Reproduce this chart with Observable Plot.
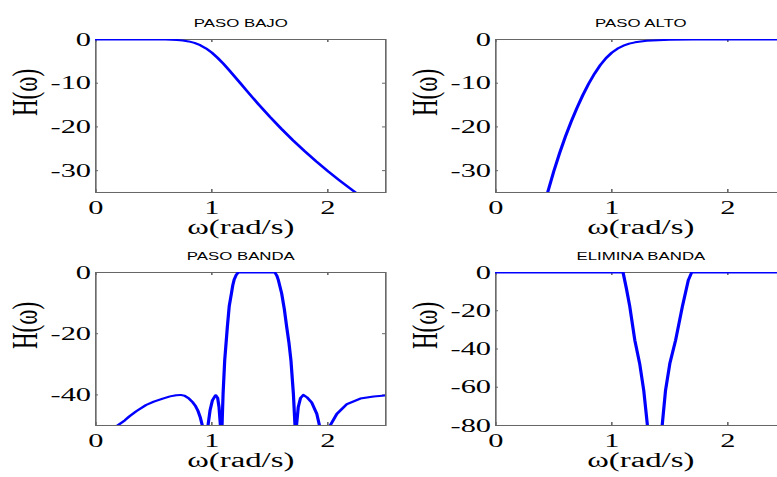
<!DOCTYPE html>
<html><head><meta charset="utf-8">
<script src="https://cdn.jsdelivr.net/npm/d3@7"></script>
<script src="https://cdn.jsdelivr.net/npm/@observablehq/plot@0.6"></script>
<style>
html,body{margin:0;padding:0;background:#fff;overflow:hidden;width:777px;height:477px}
#stage{position:absolute;left:0;top:0;width:520px;height:477px;transform:scaleX(1.6);transform-origin:0 0}
.cell{position:absolute}
</style></head><body><div id="stage"></div>
<script>
// ---- data ----
const xTicks = [0, 1, 2];
const titles = ["PASO BAJO", "PASO ALTO", "PASO BANDA", "ELIMINA BANDA"];
const xLabel = "ω(rad/s)";
const yLabel = "H(ω)";

const lowW = [0,0.2,0.4,0.5,0.6,0.7,0.75,0.8,0.85,0.9,0.95,1.0,1.05,1.1,1.15,1.2,1.25,1.3,1.35,1.4,1.5,1.6,1.7,1.8,1.9,2.0,2.1,2.2,2.3];
const lowH = [0,0,-0.0005,-0.004,-0.026,-0.121,-0.238,-0.443,-0.781,-1.30,-2.04,-3.01,-4.20,-5.56,-7.03,-8.57,-10.13,-11.70,-13.24,-14.76,-17.68,-20.45,-23.07,-25.54,-27.88,-30.11,-32.22,-34.24,-36.2];
const lowYTicks = [0, -10, -20, -30];

const highW = [0.4,0.45,0.5,0.55,0.6,0.65,0.7,0.75,0.8,0.85,0.9,0.95,1.0,1.05,1.1,1.15,1.2,1.3,1.4,1.5,1.7,2.0,2.5];
const highH = [-39.8,-34.68,-30.11,-25.97,-22.21,-18.77,-15.61,-12.73,-10.13,-7.84,-5.87,-4.27,-3.01,-2.08,-1.42,-0.958,-0.651,-0.304,-0.148,-0.075,-0.0215,-0.004,0];
const highYTicks = [0, -10, -20, -30];

const bandW = [0.15,0.188,0.25,0.289,0.35,0.433,0.5,0.577,0.64,0.693,0.73,0.765,0.8,0.837,0.86,0.88,0.9,0.918,0.94,0.95,0.955,0.967,0.985,1.005,1.033,1.05,1.062,1.074,1.082,1.088,1.097,1.111,1.134,1.15,1.169,1.18,1.192,1.21,1.227,1.3,1.4,1.5,1.544,1.56,1.573,1.602,1.625,1.645,1.665,1.682,1.703,1.717,1.723,1.73,1.745,1.765,1.789,1.82,1.861,1.905,1.928,1.97,2.02,2.078,2.165,2.28,2.395,2.5];
const bandH = [-53,-50,-48.3,-47.0,-45.3,-43.3,-42.2,-41.2,-40.5,-40.1,-40.0,-40.3,-41.1,-42.5,-43.7,-45.2,-47.3,-50,-60,-70,-60,-50,-45,-41.8,-40.1,-41,-44,-50,-70,-50,-39.6,-28.7,-17.7,-11,-6.8,-4.3,-2.4,-0.8,0,0,0,0,0,-1.0,-2.4,-6.8,-12,-17.7,-23,-28.7,-39.6,-50,-70,-50,-44,-41,-40,-40.8,-42.5,-46.2,-50,-70,-50,-46.2,-43,-41.2,-40.5,-40.2];
const bandYTicks = [0, -20, -40];

const stopW = [0,0.5,1.0,1.097,1.126,1.155,1.198,1.24,1.275,1.307,1.37,1.434,1.463,1.5,1.55,1.608,1.66,1.688,2.0,2.5];
const stopH = [0,0,0,0,-8.5,-17.9,-35.4,-47.6,-61.6,-80,-130,-80,-61.6,-47.6,-35.4,-17.9,-3.9,0,0,0];
const stopYTicks = [0, -20, -40, -60, -80];

// ---- layout ----
const S = 1.6;              // horizontal stretch of the figure
const FW = 290 / S;         // frame width (pre-stretch)
const FH = 153;             // frame height
const ML = 59.4, MR = 14, MT = 30, MB = 60;
const serif = "'Liberation Serif','Times New Roman',serif";
const sans = "'Liberation Sans',Arial,sans-serif";
const stage = document.getElementById("stage");

function panel({left, top, title, w, h, yDomain, yTicks}) {
  const data = w.map((x, i) => ({w: x, h: h[i]}));
  const tl = 3 / S;
  const p = Plot.plot({
    width: ML + FW + MR, height: MT + FH + MB,
    marginLeft: ML, marginRight: MR, marginTop: MT, marginBottom: MB,
    x: {domain: [0, 2.5], label: null},
    y: {domain: yDomain, label: null},
    style: {fontFamily: serif, background: "transparent", color: "#000"},
    marks: [
      Plot.axisX(xTicks, {tickSize: 0, tickPadding: 8, fontSize: 19, fontFamily: serif, label: null, tickFormat: d => String(d)}),
      Plot.axisY(yTicks, {tickSize: 0, tickPadding: 3, fontSize: 19, fontFamily: serif, label: null, tickFormat: d => String(d)}),
      Plot.frame({stroke: "#666"}),
      Plot.tickX(xTicks, {x: d => d, insetBottom: FH - 3, stroke: "#666"}),
      Plot.tickX(xTicks, {x: d => d, insetTop: FH - 3, stroke: "#666"}),
      Plot.tickY(yTicks, {y: d => d, insetRight: FW - tl, stroke: "#666"}),
      Plot.tickY(yTicks, {y: d => d, insetLeft: FW - tl, stroke: "#666"}),
      Plot.line(data, {x: "w", y: "h", stroke: "#0000ff", strokeWidth: 2, clip: true}),
      Plot.text([title], {frameAnchor: "top", dy: -20, fontFamily: sans, fontSize: 10.5, fill: "#000"}),
      Plot.text([xLabel], {frameAnchor: "bottom", dy: 42, fontFamily: serif, fontSize: 20.5, fill: "#000"}),
      Plot.text([yLabel], {frameAnchor: "left", dx: -44, rotate: -90, fontFamily: serif, fontSize: 23, fill: "#000"})
    ]
  });
  const d = document.createElement("div");
  d.className = "cell";
  d.style.left = left + "px";
  d.style.top = top + "px";
  d.appendChild(p);
  stage.appendChild(d);
}

panel({left: 0, top: 9, title: titles[0], w: lowW, h: lowH, yDomain: [-35, 0], yTicks: lowYTicks});
panel({left: 250, top: 9, title: titles[1], w: highW, h: highH, yDomain: [-35, 0], yTicks: highYTicks});
panel({left: 0, top: 242, title: titles[2], w: bandW, h: bandH, yDomain: [-50, 0], yTicks: bandYTicks});
panel({left: 250, top: 242, title: titles[3], w: stopW, h: stopH, yDomain: [-80, 0], yTicks: stopYTicks});
</script></body></html>
